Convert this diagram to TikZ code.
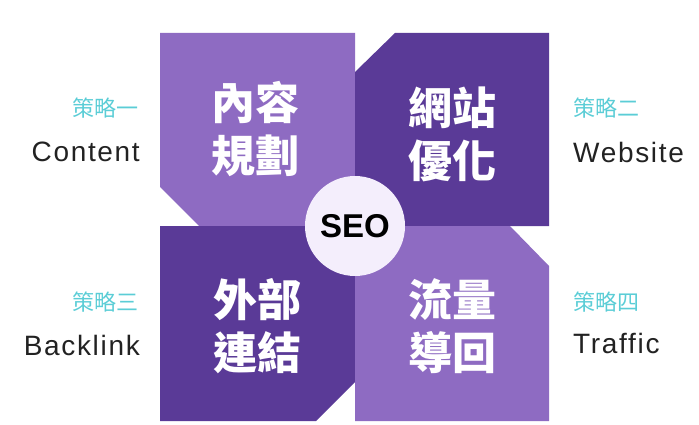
\documentclass[tikz,border=0pt]{standalone}
\usepackage{fontspec}
\setmainfont{Liberation Sans}[LetterSpace=6]
\newfontfamily\cjk{Noto Sans CJK TC}
\newfontfamily\seofont{Liberation Sans}
\usetikzlibrary{positioning}

\definecolor{lightpurple}{HTML}{8E6BC2}
\definecolor{darkpurple}{HTML}{5A3A97}
\definecolor{seoback}{HTML}{F4EEFC}
\definecolor{tealtext}{HTML}{5BCDD6}
\definecolor{labelgray}{HTML}{222222}

\begin{document}
\begin{tikzpicture}[x=1pt, y=-1pt,
    lightblock/.style={fill=lightpurple},
    darkblock/.style={fill=darkpurple},
    blocktext/.style={text=white, align=center, inner sep=0pt, font=\cjk\bfseries\fontsize{44}{53}\selectfont},
    tagline/.style={text=tealtext, inner sep=0pt, font=\cjk\fontsize{22}{26}\selectfont},
    engname/.style={text=labelgray, inner sep=0pt, font=\fontsize{28}{32}\selectfont},
    hub/.style={circle, fill=seoback, minimum size=100pt, inner sep=0pt, font=\seofont\bfseries\fontsize{33}{38}\selectfont}
  ]
    \useasboundingbox (0,0) rectangle (699,425);

    % Blocs
    \fill[lightblock] (160,33) -- (355,33) -- (355,226) -- (199,226) -- (160,187) -- cycle;
    \fill[darkblock] (395,33) -- (549,33) -- (549,226) -- (355,226) -- (355,72) -- cycle;
    \fill[darkblock] (160,226) -- (355,226) -- (355,382) -- (316,421) -- (160,421) -- cycle;
    \fill[lightblock] (355,226) -- (510,226) -- (549,266) -- (549,421) -- (355,421) -- cycle;

    % Textes des blocs
    \node[blocktext] (content) at (255,129) {內容\\規劃};
    \node[blocktext] (website) at (452,134) {網站\\優化};
    \node[blocktext] (backlink) at (257,326) {外部\\連結};
    \node[blocktext] (traffic) at (452,326) {流量\\導回};

    % Centre
    \node[hub] (seo) at (355,226) {SEO};

    % Stratégies (gauche)
    \node[tagline, anchor=east] (tag1) at (139,108) {策略一};
    \node[engname, anchor=east] (eng1) at (140,152) {Content};
    \node[tagline, anchor=east] (tag3) at (139,302) {策略三};
    \node[engname, anchor=east] (eng3) at (140,345) {Backlink};

    % Stratégies (droite)
    \node[tagline, anchor=west] (tag2) at (573,108) {策略二};
    \node[engname, anchor=west] (eng2) at (573,152) {Website};
    \node[tagline, anchor=west] (tag4) at (573,302) {策略四};
    \node[engname, anchor=west] (eng4) at (573,343) {Traffic};
\end{tikzpicture}
\end{document}
